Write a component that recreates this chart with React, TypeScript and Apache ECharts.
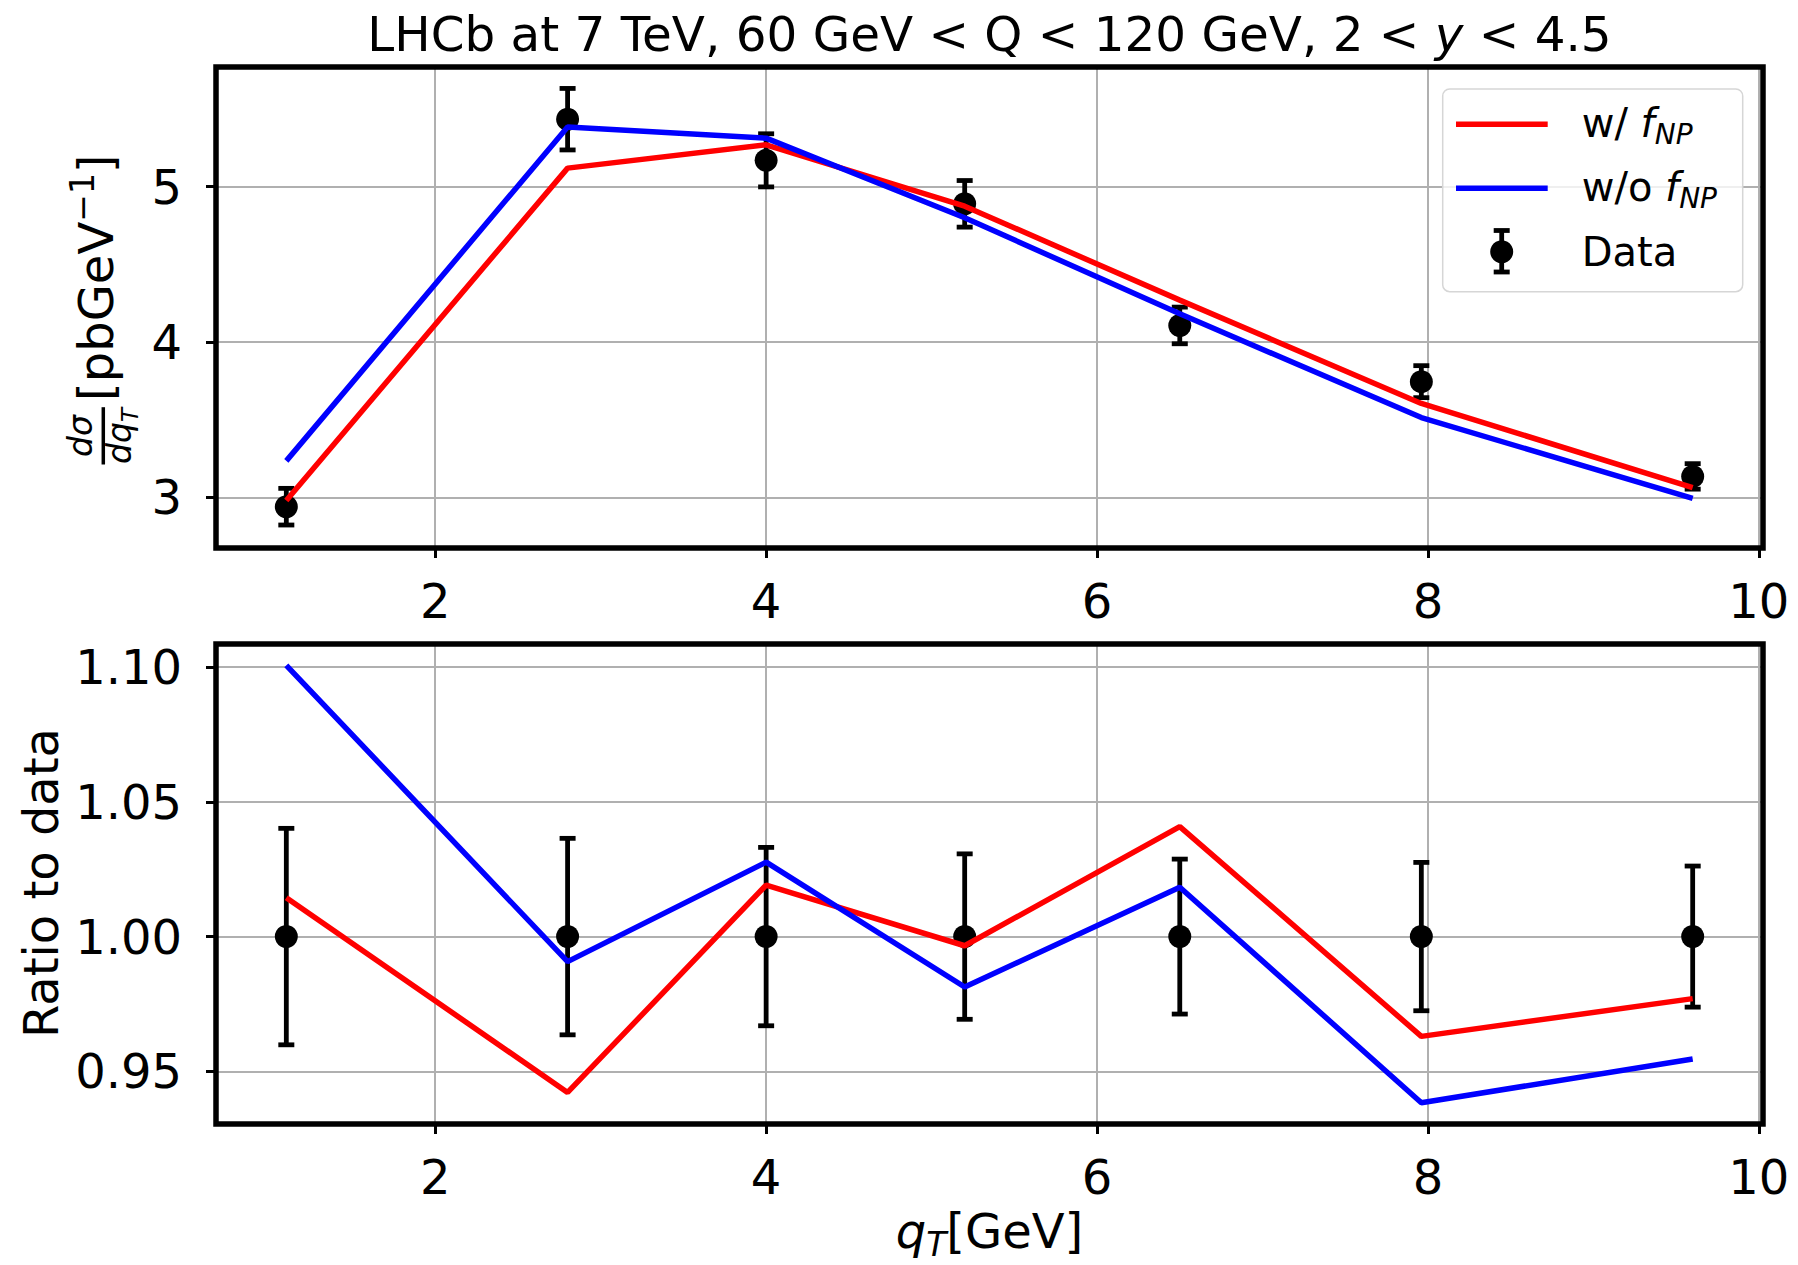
import React, { useEffect, useRef } from "react";
import * as echarts from "echarts";

// ---------- data ----------
const qT = [1.1, 2.8, 4.0, 5.2, 6.5, 7.96, 9.6];
const dataXS = [2.94, 5.435, 5.17, 4.89, 4.107, 3.745, 3.135];
const dataErr = [0.118, 0.198, 0.171, 0.15, 0.118, 0.103, 0.082];
const withFnp = [2.98, 5.12, 5.27, 4.875, 4.27, 3.605, 3.063];
const withoutFnp = [3.235, 5.385, 5.313, 4.8, 4.182, 3.514, 2.993];
const ratioWith = [1.0144, 0.9422, 1.0191, 0.9966, 1.0408, 0.963, 0.977];
const ratioWithout = [1.1006, 0.9907, 1.0276, 0.9813, 1.0183, 0.9384, 0.9546];
const xTicks = [2, 4, 6, 8, 10];
const yTicksTop = [3, 4, 5];
const yTicksRatio = [0.95, 1.0, 1.05, 1.1];

const X_MIN = 0.675;
const X_MAX = 10.025;
const Y_TOP_MIN = 2.674;
const Y_TOP_MAX = 5.771;
const Y_RATIO_MIN = 0.9305;
const Y_RATIO_MAX = 1.1085;

// ---------- layout ----------
const W = 1798;
const H = 1265;
const GRID_L = 216;
const GRID_W = 1547;
const TOP1 = 67;
const H1 = 481;
const TOP2 = 644;
const H2 = 480;
const FONT = "DejaVu Sans";
const FS = 48;
const RED = "#ff0000";
const BLUE = "#0000ff";
const EB_W = 4.8;

let measureCtx: CanvasRenderingContext2D | null = null;
function measure(t: string, size: number, italic?: boolean) {
  if (!measureCtx) measureCtx = document.createElement("canvas").getContext("2d");
  measureCtx!.font = `${italic ? "italic " : ""}${size}px "${FONT}"`;
  return measureCtx!.measureText(t).width;
}

type Piece = { t: string; size: number; italic?: boolean; dy?: number };
function run(pieces: Piece[], x0: number, baseline: number, align: "left" | "center", z = 10) {
  const widths = pieces.map((p) => measure(p.t, p.size, p.italic));
  const total = widths.reduce((a, b) => a + b, 0);
  let x = align === "center" ? x0 - total / 2 : x0;
  return pieces.map((p, i) => {
    const el = {
      type: "text",
      x,
      y: baseline + (p.dy || 0) - 0.346 * p.size,
      z,
      silent: true,
      style: {
        text: p.t,
        fontSize: p.size,
        fontFamily: FONT,
        fontStyle: p.italic ? "italic" : "normal",
        fill: "#000",
        align: "left",
        verticalAlign: "middle",
        textAlign: "left",
        textVerticalAlign: "middle",
      },
    };
    x += widths[i];
    return el;
  });
}

function errorBarSeries(xi: number, yi: number, values: number[], errs: number[]) {
  return {
    type: "custom",
    xAxisIndex: xi,
    yAxisIndex: yi,
    z: 2,
    clip: false,
    data: qT.map((x, i) => [x, values[i], errs[i]]),
    encode: { x: 0, y: 1 },
    renderItem: (_params: any, api: any) => {
      const x = api.value(0);
      const y = api.value(1);
      const e = api.value(2);
      const top = api.coord([x, y + e]);
      const bot = api.coord([x, y - e]);
      const hw = 8;
      const style = { stroke: "#000", lineWidth: EB_W };
      return {
        type: "group",
        children: [
          { type: "line", shape: { x1: top[0], y1: top[1], x2: bot[0], y2: bot[1] }, style },
          { type: "line", shape: { x1: top[0] - hw, y1: top[1], x2: top[0] + hw, y2: top[1] }, style },
          { type: "line", shape: { x1: bot[0] - hw, y1: bot[1], x2: bot[0] + hw, y2: bot[1] }, style },
        ],
      };
    },
  };
}

function App() {
  const ref = useRef<HTMLDivElement>(null);
  useEffect(() => {
    if (!ref.current) return;
    const chart = echarts.init(ref.current, undefined, { renderer: "svg", width: W, height: H });

    const axisLabelBase = { fontSize: FS, fontFamily: FONT, color: "#000" };
    const mkX = (gi: number) => ({
      type: "value",
      gridIndex: gi,
      min: X_MIN,
      max: X_MAX,
      axisLine: { show: false },
      axisTick: { show: true, customValues: xTicks, length: 10, lineStyle: { color: "#000", width: 3 } },
      axisLabel: { ...axisLabelBase, customValues: xTicks, margin: 29, formatter: (v: number) => String(v) },
      splitLine: { show: true, lineStyle: { color: "#b0b0b0", width: 2 } },
    });
    const mkY = (gi: number, min: number, max: number, ticks: number[], fmt: (v: number) => string) => ({
      type: "value",
      gridIndex: gi,
      min,
      max,
      axisLine: { show: false },
      axisTick: { show: true, customValues: ticks, length: 10, lineStyle: { color: "#000", width: 3 } },
      axisLabel: { ...axisLabelBase, customValues: ticks, margin: 34, formatter: fmt },
      splitLine: { show: true, lineStyle: { color: "#b0b0b0", width: 2 } },
    });

    const lineSeries = (xi: number, vals: number[], color: string) => ({
      type: "line",
      xAxisIndex: xi,
      yAxisIndex: xi,
      z: 4,
      data: qT.map((x, i) => [x, vals[i]]),
      showSymbol: false,
      symbol: "none",
      lineStyle: { color, width: 5.5 },
      itemStyle: { color },
    });
    const markerSeries = (xi: number, vals: number[]) => ({
      type: "scatter",
      xAxisIndex: xi,
      yAxisIndex: xi,
      z: 3,
      symbol: "circle",
      symbolSize: 23,
      itemStyle: { color: "#000", opacity: 1 },
      data: qT.map((x, i) => [x, vals[i]]),
    });

    const ratioOnes = qT.map(() => 1);
    const ratioErr = dataErr.map((e, i) => e / dataXS[i]);

    // legend graphics
    const LX = 1442.7;
    const LY = 89;
    const legendEls: any[] = [
      {
        type: "rect",
        z: 20,
        shape: { x: LX, y: LY, width: 300, height: 202.7, r: 7 },
        style: { fill: "rgba(255,255,255,0.8)", stroke: "#d6d6d6", lineWidth: 1.5 },
      },
      { type: "line", z: 21, shape: { x1: 1456, y1: 124.3, x2: 1547.7, y2: 124.3 }, style: { stroke: RED, lineWidth: 5.5 } },
      { type: "line", z: 21, shape: { x1: 1456, y1: 188.3, x2: 1547.7, y2: 188.3 }, style: { stroke: BLUE, lineWidth: 5.5 } },
      { type: "line", z: 21, shape: { x1: 1501.7, y1: 230.5, x2: 1501.7, y2: 272 }, style: { stroke: "#000", lineWidth: EB_W } },
      { type: "line", z: 21, shape: { x1: 1493.7, y1: 230.5, x2: 1509.7, y2: 230.5 }, style: { stroke: "#000", lineWidth: EB_W } },
      { type: "line", z: 21, shape: { x1: 1493.7, y1: 272, x2: 1509.7, y2: 272 }, style: { stroke: "#000", lineWidth: EB_W } },
      { type: "circle", z: 21, shape: { cx: 1501.7, cy: 251.7, r: 11.5 }, style: { fill: "#000" } },
      ...run(
        [
          { t: "w/ ", size: 40 },
          { t: "f", size: 40, italic: true },
          { t: "NP", size: 28, italic: true, dy: 7 },
        ],
        1581.7,
        136.7,
        "left",
        22
      ),
      ...run(
        [
          { t: "w/o ", size: 40 },
          { t: "f", size: 40, italic: true },
          { t: "NP", size: 28, italic: true, dy: 7 },
        ],
        1581.7,
        200.7,
        "left",
        22
      ),
      ...run([{ t: "Data", size: 40 }], 1581.7, 266, "left", 22),
    ];

    const title = run(
      [
        { t: "LHCb at 7 TeV, 60 GeV < Q < 120 GeV, 2 < ", size: 48.4 },
        { t: "y", size: 48.4, italic: true },
        { t: " < 4.5", size: 48.4 },
      ],
      GRID_L + GRID_W / 2,
      50.5,
      "center"
    );

    const xlabel = run(
      [
        { t: "q", size: FS, italic: true },
        { t: "T", size: 33, italic: true, dy: 8 },
        { t: "[GeV]", size: FS },
      ],
      GRID_L + GRID_W / 2,
      1248,
      "center"
    );

    // rotated y-label of top panel (local coords: x along reading direction, y = baseline offset)
    const topYLabelChildren: any[] = [
      ...run([{ t: "d\u03c3", size: 33, italic: true }], 29, -20.8, "center"),
      { type: "line", shape: { x1: 0.5, y1: -9.2, x2: 57.8, y2: -9.2 }, style: { stroke: "#000", lineWidth: 3.5 } },
      ...run(
        [
          { t: "dq", size: 33, italic: true },
          { t: "T", size: 23, italic: true, dy: 7.5 },
        ],
        29,
        18,
        "center"
      ),
      ...(() => {
        const a = run([{ t: "[pbGeV", size: FS }], 64, 0, "left");
        const w1 = measure("[pbGeV", FS);
        const b = run([{ t: "\u22121", size: 33 }], 64 + w1, -19, "left");
        const w2 = measure("\u22121", 33);
        const c = run([{ t: "]", size: FS }], 64 + w1 + w2, 0, "left");
        return [...a, ...b, ...c];
      })(),
    ];

    const option: any = {
      animation: false,
      backgroundColor: "#ffffff",
      grid: [
        { left: GRID_L, top: TOP1, width: GRID_W, height: H1, show: true, borderColor: "#000", borderWidth: 5.5, backgroundColor: "transparent", z: 5 },
        { left: GRID_L, top: TOP2, width: GRID_W, height: H2, show: true, borderColor: "#000", borderWidth: 5.5, backgroundColor: "transparent", z: 5 },
      ],
      xAxis: [mkX(0), mkX(1)],
      yAxis: [
        mkY(0, Y_TOP_MIN, Y_TOP_MAX, yTicksTop, (v: number) => String(v)),
        mkY(1, Y_RATIO_MIN, Y_RATIO_MAX, yTicksRatio, (v: number) => v.toFixed(2)),
      ],
      series: [
        errorBarSeries(0, 0, dataXS, dataErr),
        markerSeries(0, dataXS),
        lineSeries(0, withFnp, RED),
        lineSeries(0, withoutFnp, BLUE),
        errorBarSeries(1, 1, ratioOnes, ratioErr),
        markerSeries(1, ratioOnes),
        lineSeries(1, ratioWith, RED),
        lineSeries(1, ratioWithout, BLUE),
      ],
      graphic: [
        ...title,
        ...xlabel,
        { type: "group", x: 112.5, y: 465, rotation: Math.PI / 2, children: topYLabelChildren },
        {
          type: "group",
          x: 40.7,
          y: 883,
          rotation: Math.PI / 2,
          children: [
            {
              type: "text",
              x: 0,
              y: 0,
              style: {
                text: "Ratio to data",
                fontSize: FS,
                fontFamily: FONT,
                fill: "#000",
                align: "center",
                verticalAlign: "middle",
                textAlign: "center",
                textVerticalAlign: "middle",
              },
            },
          ],
        },
        ...legendEls,
      ],
    };
    chart.setOption(option);
    return () => chart.dispose();
  }, []);
  return <div ref={ref} style={{ position: "absolute", left: 0, top: 0, width: W, height: H, background: "#fff" }} />;
}

export default App;
